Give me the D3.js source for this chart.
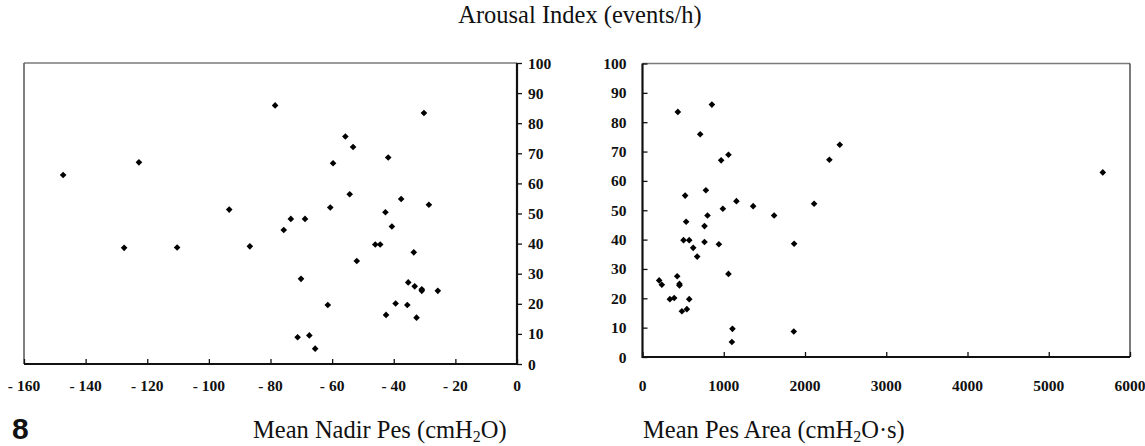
<!DOCTYPE html>
<html>
<head>
<meta charset="utf-8">
<script src="https://cdn.jsdelivr.net/npm/d3@7"></script>
<style>
  body { margin: 0; background: #fff; }
  svg { display: block; }
  .tick-lbl { font-family: "Liberation Serif", "Times New Roman", serif; font-weight: bold; font-size: 15.5px; fill: #111; }
  .ax-title { font-family: "Liberation Serif", "Times New Roman", serif; font-size: 24.5px; fill: #111; }
</style>
</head>
<body>
<svg id="chart" width="1145" height="446"></svg>
<script>
// ---- data ----
// left panel: mean nadir Pes (cmH2O) vs arousal index
const nadirPes = [ -147.3, -122.7, -78.5, -93.4, -73.4, -75.7, -127.5, -110.3, -86.7, -68.8,
  -60.6, -59.7, -55.7, -53.2, -54.3, -41.8, -30.2, -37.6, -28.6, -42.7,
  -40.6, -46.0, -44.4, -33.5, -52.0, -70.1, -35.3, -33.2, -30.9, -30.9,
  -25.7, -61.4, -39.4, -35.6, -42.5, -32.6, -71.2, -67.4, -65.5 ];
const arousalLeft = [ 62.8, 67.0, 85.9, 51.3, 48.2, 44.5, 38.6, 38.7, 39.1, 48.2,
  52.0, 66.7, 75.6, 72.1, 56.4, 68.6, 83.4, 54.8, 52.9, 50.4,
  45.7, 39.7, 39.7, 37.1, 34.2, 28.3, 27.1, 25.8, 24.8, 24.3,
  24.3, 19.6, 20.1, 19.6, 16.3, 15.4, 8.9, 9.5, 5.1 ];
// right panel: mean Pes area (cmH2O.s) vs arousal index
const pesArea = [ 435, 854, 710, 968, 1058, 2428, 2300, 525, 780, 1156,
  1362, 989, 800, 1620, 2112, 537, 763, 505, 575, 763,
  940, 624, 1866, 673, 1058, 205, 238, 427, 455, 455,
  337, 390, 575, 485, 546, 1107, 1100, 1862, 5665 ];
const arousalRight = [ 83.5, 86.0, 75.9, 67.0, 68.9, 72.3, 67.2, 55.0, 56.8, 53.1,
  51.4, 50.5, 48.2, 48.2, 52.2, 46.1, 44.6, 39.8, 39.8, 39.2,
  38.4, 37.2, 38.6, 34.2, 28.3, 26.1, 24.6, 27.5, 24.9, 24.4,
  19.7, 20.1, 19.7, 15.6, 16.3, 9.6, 5.1, 8.7, 62.9 ];

const leftXTicks = [ -160, -140, -120, -100, -80, -60, -40, -20, 0 ];
const rightXTicks = [ 0, 1000, 2000, 3000, 4000, 5000, 6000 ];
const yTicks = [ 0, 10, 20, 30, 40, 50, 60, 70, 80, 90, 100 ];

const svg = d3.select( "#chart" );

// minus sign drawn as "- 160" like the figure
const fmtNeg = d => d < 0 ? "- " + Math.abs( d ) : String( d );

const marker = d3.symbol().type( d3.symbolSquare ).size( 22 );

function drawPanel( opts ) {
  const xScale = d3.scaleLinear().domain( opts.xDomain ).range( [ opts.x0, opts.x1 ] );
  const yScale = d3.scaleLinear().domain( [ 0, 100 ] ).range( [ opts.y0, opts.y1 ] );
  const g = svg.append( "g" );

  // thin gray frame (top + the side without an axis)
  g.append( "line" )
    .attr( "x1", opts.x0 ).attr( "x2", opts.x1 )
    .attr( "y1", opts.y1 ).attr( "y2", opts.y1 )
    .attr( "stroke", "#7a7a7a" ).attr( "stroke-width", 1.5 );
  const sideX = opts.yAxisRight ? opts.x0 : opts.x1;
  g.append( "line" )
    .attr( "x1", sideX ).attr( "x2", sideX )
    .attr( "y1", opts.y1 ).attr( "y2", opts.y0 )
    .attr( "stroke", opts.yAxisRight ? "#555" : "#222" ).attr( "stroke-width", opts.yAxisRight ? 1.5 : 1.2 );

  // x axis: ticks point up into the plot
  const xAxis = d3.axisTop( xScale ).tickValues( opts.xTicks ).tickSize( 5 ).tickFormat( "" );
  const gx = g.append( "g" ).attr( "transform", `translate(0,${opts.y0})` ).call( xAxis );
  gx.select( ".domain" ).attr( "stroke", "#111" ).attr( "stroke-width", 2.2 ).attr( "d", `M${opts.x0},0H${opts.x1}` );
  gx.selectAll( ".tick line" ).attr( "stroke", "#111" ).attr( "stroke-width", 1.3 );

  g.selectAll( ".xlbl" )
    .data( opts.xTicks )
    .enter()
    .append( "text" )
    .attr( "class", "tick-lbl" )
    .attr( "x", d => xScale( d ) )
    .attr( "y", 391 )
    .attr( "text-anchor", "middle" )
    .text( fmtNeg );

  // y axis: ticks always on the right side of the line
  const axisX = opts.yAxisRight ? opts.x1 : opts.x0;
  const yAxis = d3.axisRight( yScale ).tickValues( yTicks ).tickSize( 5 ).tickFormat( "" );
  const gy = g.append( "g" ).attr( "transform", `translate(${axisX},0)` ).call( yAxis );
  gy.select( ".domain" ).attr( "stroke", "#111" ).attr( "stroke-width", 2.2 ).attr( "d", `M0,${opts.y0 + 1}V${opts.y1}` );
  gy.selectAll( ".tick line" ).attr( "stroke", "#111" ).attr( "stroke-width", 1.3 );

  g.selectAll( ".ylbl" )
    .data( yTicks )
    .enter()
    .append( "text" )
    .attr( "class", "tick-lbl" )
    .attr( "x", opts.yAxisRight ? axisX + 11 : axisX - 16 )
    .attr( "y", d => yScale( d ) + 5.5 )
    .attr( "text-anchor", opts.yAxisRight ? "start" : "end" )
    .text( d => d );

  // points
  g.selectAll( "path.pt" )
    .data( opts.xs.map( ( v, i ) => ( { x: v, y: opts.ys[ i ] } ) ) )
    .enter()
    .append( "path" )
    .attr( "class", "pt" )
    .attr( "d", marker )
    .attr( "fill", "#000" )
    .attr( "transform", d => `translate(${xScale( d.x )},${yScale( d.y )}) rotate(45)` );

  // axis title under the panel
  const t = svg.append( "text" )
    .attr( "class", "ax-title" )
    .attr( "x", opts.titleX )
    .attr( "y", 438 );
  t.append( "tspan" ).text( opts.titleA );
  t.append( "tspan" ).attr( "font-size", "16px" ).attr( "dy", 4 ).text( "2" );
  t.append( "tspan" ).attr( "dy", -4 ).text( opts.titleB );
}

drawPanel( {
  xDomain: [ -160, 0 ], x0: 24, x1: 517, y0: 364, y1: 63,
  xTicks: leftXTicks, yAxisRight: true,
  xs: nadirPes, ys: arousalLeft,
  titleX: 253, titleA: "Mean Nadir Pes (cmH", titleB: "O)"
} );

drawPanel( {
  xDomain: [ 0, 6000 ], x0: 642.5, x1: 1130, y0: 357, y1: 63.5,
  xTicks: rightXTicks, yAxisRight: false,
  xs: pesArea, ys: arousalRight,
  titleX: 643, titleA: "Mean Pes Area (cmH", titleB: "O·s)"
} );

// shared title
svg.append( "text" )
  .attr( "class", "ax-title" )
  .attr( "x", 580 )
  .attr( "y", 23 )
  .attr( "text-anchor", "middle" )
  .text( "Arousal Index (events/h)" );

// figure number
svg.append( "text" )
  .attr( "x", 12 )
  .attr( "y", 439 )
  .attr( "font-family", "Liberation Sans, Arial, sans-serif" )
  .attr( "font-weight", "bold" )
  .attr( "font-size", "30px" )
  .attr( "fill", "#111" )
  .text( "8" );
</script>
</body>
</html>
